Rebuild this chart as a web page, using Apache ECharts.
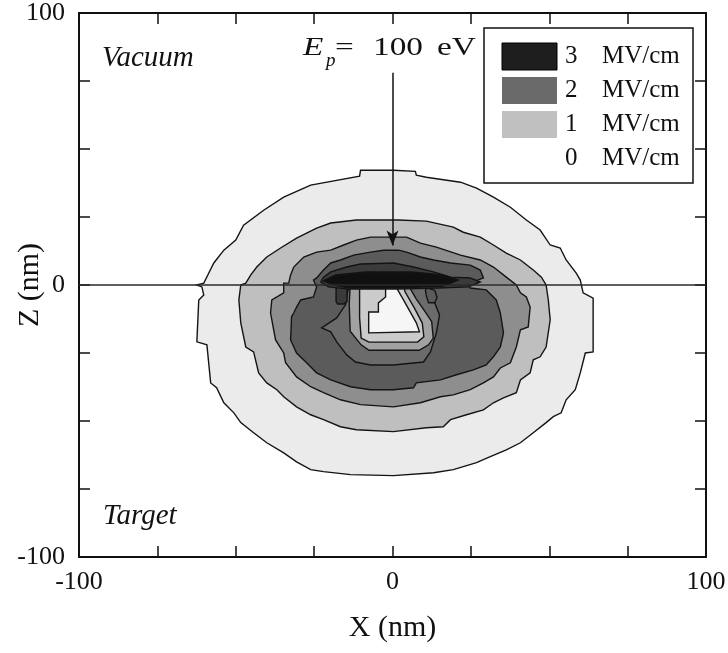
<!DOCTYPE html>
<html>
<head>
<meta charset="utf-8">
<script src="https://cdn.jsdelivr.net/npm/echarts@6/dist/echarts.min.js"></script>
<style>
  html, body { margin: 0; padding: 0; background: #fff; }
  #chart { width: 728px; height: 653px; }
</style>
</head>
<body>
<div id="chart"></div>
<script>
// Field-strength contours around the impact point, [x (nm), z (nm)] vertices.
const outerRing = [[-62.4,0],[-60.2,0.7],[-58.6,4.4],[-57.0,8.1],[-53.8,12.8],[-50.0,16.5],[-47.5,22.0],[-41.1,27.5],[-34.7,32.3],[-26.1,36.7],[-10.5,40.0],[-10.2,42.2],[0.3,42.2],[7.3,41.8],[7.6,40.4],[10.8,39.6],[21.7,37.8],[26.8,35.6],[32.2,32.3],[37.6,28.6],[42.7,23.9],[47.1,20.2],[50.3,14.7],[53.5,13.6],[55.4,9.2],[58.6,4.4],[59.9,1.8],[60.8,-2.9],[64.0,-4.8],[64.0,-24.6],[61.5,-25.0],[59.9,-32.3],[58.3,-38.5],[55.4,-42.2],[53.8,-47.0],[51.3,-48.4],[49.0,-50.6],[44.9,-54.3],[40.8,-58.0],[36.3,-60.6],[31.2,-63.1],[26.8,-65.3],[19.4,-67.9],[13.1,-69.0],[0.3,-70.1],[-13.4,-69.7],[-22.0,-68.6],[-26.1,-67.9],[-30.6,-65.0],[-34.7,-61.7],[-40.1,-58.0],[-44.3,-54.3],[-48.4,-50.6],[-50.6,-47.0],[-53.8,-43.3],[-56.1,-37.8],[-58.0,-36.0],[-59.2,-22.0],[-62.4,-20.9],[-61.8,-5.5],[-60.2,-3.7],[-60.8,-0.7]];
const ring1 = [[-46.8,0.7],[-45.2,3.7],[-43.3,6.6],[-40.1,10.3],[-35.7,13.6],[-30.6,17.2],[-24.2,20.9],[-19.7,22.8],[-11.5,23.9],[1.9,23.9],[10.8,23.5],[19.4,21.3],[22.6,19.4],[28.0,17.6],[32.2,14.7],[36.3,11.7],[40.8,9.2],[44.9,5.5],[47.5,2.9],[49.0,0],[49.7,-5.5],[50.3,-12.8],[49.0,-22.8],[47.1,-26.4],[44.9,-27.5],[43.9,-32.3],[40.8,-34.9],[39.5,-39.6],[35.4,-41.5],[32.2,-43.3],[29.0,-45.9],[23.6,-47.7],[18.5,-49.5],[16.2,-52.1],[10.8,-52.5],[0.3,-53.9],[-11.5,-53.2],[-16.6,-52.1],[-22.0,-49.5],[-26.1,-47.7],[-30.6,-44.8],[-34.7,-41.1],[-36.9,-38.5],[-40.1,-36.0],[-42.7,-32.3],[-44.3,-24.6],[-46.8,-22.8],[-48.4,-13.9],[-49.0,-5.5],[-48.4,0]];
const ring15 = [[-33.1,0.7],[-32.5,3.7],[-31.5,6.6],[-28.3,10.3],[-24.2,12.1],[-19.7,12.8],[-15.6,14.7],[-11.5,16.5],[-7.0,17.6],[1.9,17.6],[4.5,17.6],[8.9,15.4],[14.0,13.9],[21.7,11.0],[28.0,9.2],[32.2,6.6],[36.3,2.9],[39.5,0],[40.8,-2.9],[42.7,-4.4],[43.9,-8.1],[43.3,-15.4],[40.8,-16.5],[39.5,-22.8],[37.6,-28.6],[34.4,-30.5],[32.2,-33.8],[29.0,-36.0],[24.8,-38.5],[19.4,-40.4],[15.3,-41.1],[8.9,-43.3],[0.3,-44.8],[-10.2,-44.0],[-16.6,-42.2],[-22.0,-39.6],[-26.1,-37.4],[-30.6,-33.8],[-34.1,-28.6],[-34.7,-25.0],[-37.3,-20.2],[-38.9,-10.3],[-38.5,-5.5],[-34.7,-2.9],[-34.7,0.7]];
const ring2 = [[-25.2,1.8],[-24.2,2.6],[-22.0,5.5],[-19.7,8.1],[-16.6,9.2],[-12.4,11.0],[-7.0,12.1],[-2.9,12.8],[1.9,12.8],[4.5,12.1],[8.9,10.3],[13.1,9.2],[18.5,8.1],[24.8,7.3],[28.0,5.5],[29.0,2.6],[24.2,0.4],[24.8,-1.1],[29.9,-1.8],[33.1,-5.5],[34.4,-10.3],[35.4,-17.6],[34.4,-22.8],[32.2,-26.4],[29.9,-29.4],[25.8,-31.2],[20.4,-33.0],[15.3,-34.9],[7.6,-36.0],[6.7,-37.8],[0.3,-38.5],[-7.0,-38.5],[-13.4,-37.4],[-19.7,-34.9],[-24.2,-32.3],[-27.4,-28.6],[-30.6,-25.0],[-32.5,-20.2],[-32.2,-11.7],[-31.5,-10.3],[-30.6,-8.1],[-29.3,-5.5],[-25.2,-4.4],[-24.2,-0.7]];
const pocket = [[-14.0,-0.7],[-15.0,-7.3],[-17.8,-12.1],[-22.6,-15.8],[-19.7,-17.2],[-17.8,-20.9],[-14.6,-25.7],[-11.8,-28.3],[-7.0,-29.4],[0.3,-29.4],[9.9,-28.3],[12.1,-24.6],[14.0,-17.6],[15.0,-11.0],[13.1,-5.5],[12.1,-0.7]];
const hollowOuter = [[-13.5,0],[-13.8,-7],[-13.5,-17],[-10,-22],[-7.5,-24],[8.5,-24],[11.5,-22],[13,-19.5],[12.5,-13.5],[10.5,-10],[7.5,-5],[5,0]];
const hollowMid = [[-10.5,0],[-10.5,-12],[-10,-19.5],[-7.5,-21],[8,-21],[10,-19],[9.5,-14],[7,-8.5],[4,-2.5],[3.5,0]];
const hollowCore = [[-2.2,-1.1],[1.3,-1.1],[3.5,-5.5],[7.6,-13.9],[8.6,-17.2],[-7.6,-17.6],[-7.6,-9.9],[-4.5,-9.9],[-4.5,-6.6],[-2.2,-4.4]];
const stubLeft = [[-18,-0.5],[-14.5,-0.5],[-14.5,-6],[-15.5,-7],[-17.5,-7],[-18,-6]];
const blobRight = [[11,-1],[13.5,-2],[14.2,-4.5],[13.5,-6.5],[11.5,-6.5],[10.8,-4],[10.5,-2]];
const capBand = [[-22.9,1.1],[-22.0,2.9],[-19.7,4.8],[-14.6,6.6],[-10.2,7.7],[0.3,8.1],[6.7,6.6],[13.1,4.8],[18.5,2.9],[24.8,2.6],[28.0,1.1],[24.2,-0.7],[14.6,-1.1],[1.9,-1.5],[-14.0,-1.5],[-20.4,-0.7]];
const capCore = [[-22.0,1.5],[-18.2,3.7],[-8.6,4.8],[6.1,4.8],[16.2,3.7],[21.0,1.8],[16.2,-0.4],[1.9,-1.1],[-14.0,-1.1],[-18.8,0]];

// Target surface (z = 0) and incident beam arrow
const surfaceLine = [[-100, 0], [100, 0]];
const beamStart = [0, 78];
const beamEnd = [0, 14.5];

// Axis tick labels and legend entries
const xTickLabels = [-100, 0, 100];
const zTickLabels = [-100, 0, 100];
const legendLevels = ['3', '2', '1', '0'];
const legendUnit = 'MV/cm';

const SERIF = "'Liberation Serif', 'DejaVu Serif', serif";
const INK = '#111';

const fills = {
  outerRing: '#ebebeb', ring1: '#bfbfbf', ring15: '#8e8e8e', ring2: '#5b5b5b',
  pocket: '#6b6b6b', hollowOuter: '#a2a2a2', hollowMid: '#cbcbcb', hollowCore: '#f6f6f6',
  stubLeft: '#3a3a3a', blobRight: '#5b5b5b', capBand: '#3b3b3b', capCore: '#101010'
};
const legendFills = ['#1e1e1e', '#6a6a6a', '#c0c0c0', null];

function region(name, pts) {
  return {
    type: 'custom', name, silent: true, clip: true,
    xAxisIndex: 0, yAxisIndex: 0,
    data: pts, encode: { x: 0, y: 1 },
    renderItem(params, api) {
      if (params.dataIndex !== 0) return null;
      const points = pts.map(p => api.coord(p));
      return {
        type: 'polygon', shape: { points },
        style: { fill: fills[name], stroke: '#141414', lineWidth: 1.4 }
      };
    }
  };
}

const regions = { outerRing, ring1, ring15, ring2, pocket, hollowOuter, hollowMid, hollowCore, stubLeft, blobRight, capBand, capCore };
const regionSeries = Object.keys(regions).map(k => region(k, regions[k]));

const labelStyle = { fontFamily: SERIF, fontSize: 26, color: INK };
const lineStyle = { color: INK, width: 2 };
const tickStyle = { inside: true, length: 11, lineStyle: { color: INK, width: 1.5 } };

function xAx(pos, showLabels) {
  return {
    type: 'value', position: pos, min: -100, max: 100, interval: 25,
    axisLine: { onZero: false, lineStyle },
    axisTick: tickStyle, splitLine: { show: false },
    axisLabel: showLabels ? {
      ...labelStyle, margin: 12,
      formatter: v => (xTickLabels.includes(v) ? String(v) : '')
    } : { show: false },
    name: showLabels ? 'X (nm)' : '', nameLocation: 'middle', nameGap: 56,
    nameMoveOverlap: false,
    nameTextStyle: { fontFamily: SERIF, fontSize: 30, color: INK }
  };
}
function yAx(pos, showLabels) {
  return {
    type: 'value', position: pos, min: -100, max: 100, interval: 25,
    axisLine: { onZero: false, lineStyle },
    axisTick: tickStyle, splitLine: { show: false },
    axisLabel: showLabels ? {
      ...labelStyle, margin: 14,
      formatter: v => (zTickLabels.includes(v) ? String(v) : '')
    } : { show: false },
    name: showLabels ? 'Z (nm)' : '', nameLocation: 'middle', nameGap: 34, nameRotate: 90,
    nameMoveOverlap: false,
    nameTextStyle: { fontFamily: SERIF, fontSize: 30, color: INK }
  };
}

// Legend panel
const legendGraphics = [{
  type: 'rect', shape: { x: 484, y: 28, width: 209, height: 155 },
  style: { fill: '#fff', stroke: INK, lineWidth: 1.5 }, z: 100
}];
const rowY = [56.5, 90.5, 124.5, 158.5];
legendLevels.forEach((lv, i) => {
  if (legendFills[i]) {
    legendGraphics.push({
      type: 'rect', shape: { x: 502, y: rowY[i] - 13.5, width: 55, height: 27 },
      style: { fill: legendFills[i], stroke: i === 0 ? '#000' : null, lineWidth: 1 }, z: 101
    });
  }
  legendGraphics.push({
    type: 'text', x: 565, y: rowY[i], z: 101,
    style: { text: lv, font: `25px ${SERIF}`, fill: INK, verticalAlign: 'middle' }
  });
  legendGraphics.push({
    type: 'text', x: 602, y: rowY[i], z: 101,
    style: { text: legendUnit, font: `25px ${SERIF}`, fill: INK, verticalAlign: 'middle' }
  });
});

// Beam energy annotation: E_p = 100 eV
const epFont = `26px ${SERIF}`;
function wideText(x, y, text, font) {
  return { type: 'text', x, y, scaleX: 1.28, originX: 0, originY: 0, z: 100,
    style: { text, font, fill: INK, verticalAlign: 'middle' } };
}
const annotation = [
  wideText(303, 48, 'E', `italic ${epFont}`),
  { type: 'text', x: 326, y: 61, z: 100,
    style: { text: 'p', font: `italic 19px ${SERIF}`, fill: INK, verticalAlign: 'middle' } },
  wideText(335, 48, '=', epFont),
  wideText(373, 48, '100', epFont),
  wideText(437, 48, 'eV', epFont),
  { type: 'text', x: 102, y: 58, z: 100,
    style: { text: 'Vacuum', font: `italic 29px ${SERIF}`, fill: INK, verticalAlign: 'middle' } },
  { type: 'text', x: 103, y: 516, z: 100,
    style: { text: 'Target', font: `italic 29px ${SERIF}`, fill: INK, verticalAlign: 'middle' } }
];

const chart = echarts.init(document.getElementById('chart'), null, { renderer: 'canvas' });
chart.setOption({
  animation: false,
  backgroundColor: '#fff',
  grid: { left: 79, right: 22, top: 13, bottom: 96, containLabel: false, outerBoundsMode: 'none' },
  xAxis: [xAx('bottom', true), xAx('top', false)],
  yAxis: [yAx('left', true), yAx('right', false)],
  series: [
    ...regionSeries,
    {
      type: 'line', silent: true, data: surfaceLine, symbol: 'none',
      lineStyle: { color: '#2a2a2a', width: 1.6 }, z: 5,
      markLine: {
        silent: true, symbol: ['none', 'arrow'], symbolSize: [9, 15],
        label: { show: false },
        lineStyle: { color: INK, width: 1.5, type: 'solid' },
        data: [[{ coord: beamStart }, { coord: beamEnd }]]
      }
    }
  ],
  graphic: [...legendGraphics, ...annotation]
});
</script>
</body>
</html>
